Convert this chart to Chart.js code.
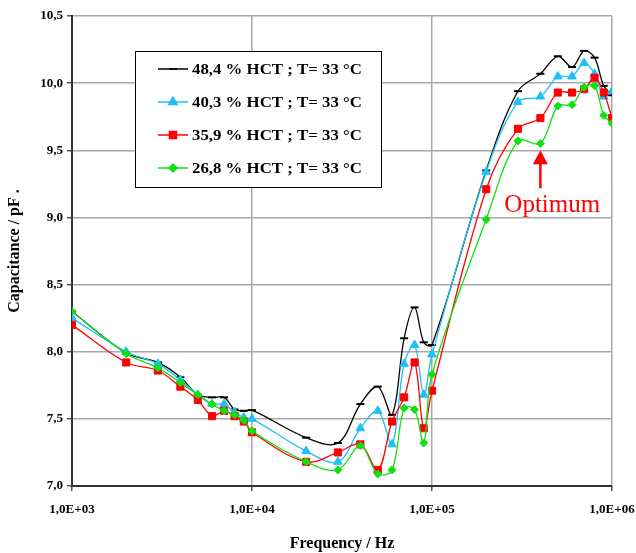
<!DOCTYPE html>
<html>
<head>
<meta charset="utf-8">
<script src="https://cdn.jsdelivr.net/npm/chart.js@4/dist/chart.umd.min.js"></script>
<style>
  html, body { margin: 0; padding: 0; background: #fff; }
  #wrap { width: 636px; height: 553px; position: relative; }
</style>
</head>
<body>
<div id="wrap"><canvas id="capChart"></canvas></div>
<script>
// frequencies (Hz)
var freqs = [1e3, 2e3, 3e3, 4e3, 5e3, 6e3, 7e3, 8e3, 9e3, 1e4,
    2e4, 3e4, 4e4, 5e4, 6e4, 7e4, 8e4, 9e4, 1e5,
    2e5, 3e5, 4e5, 5e5, 6e5, 7e5, 8e5, 9e5, 1e6];

// capacitance (pF) per hematocrit
var hct484 = [8.30, 7.99, 7.92, 7.81, 7.68, 7.66, 7.66, 7.57, 7.56, 7.565,
    7.36, 7.32, 7.61, 7.74, 7.53, 8.10, 8.33, 8.07, 8.05,
    9.35, 9.94, 10.07, 10.20, 10.12, 10.24, 10.19, 9.98, 9.91];
var hct403 = [8.25, 8.00, 7.91, 7.79, 7.68, 7.61, 7.61, 7.55, 7.51, 7.50,
    7.26, 7.18, 7.43, 7.56, 7.31, 7.91, 8.05, 7.68, 7.98,
    9.34, 9.86, 9.90, 10.05, 10.05, 10.15, 10.07, 9.90, 9.94];
var hct359 = [8.20, 7.92, 7.86, 7.74, 7.64, 7.52, 7.56, 7.52, 7.48, 7.40,
    7.18, 7.25, 7.31, 7.12, 7.48, 7.66, 7.92, 7.43, 7.71,
    9.21, 9.66, 9.74, 9.93, 9.93, 9.955, 10.04, 9.93, 9.74];
var hct268 = [8.30, 7.985, 7.88, 7.77, 7.68, 7.61, 7.56, 7.53, 7.49, 7.41,
    7.18, 7.12, 7.30, 7.09, 7.12, 7.58, 7.57, 7.32, 7.83,
    8.985, 9.57, 9.55, 9.83, 9.84, 9.97, 9.98, 9.76, 9.70];

var seriesLabels = ['48,4 % HCT ; T= 33 °C', '40,3 % HCT ; T= 33 °C',
    '35,9 % HCT ; T= 33 °C', '26,8 % HCT ; T= 33 °C'];
var xTicks = [1e3, 1e4, 1e5, 1e6];
var yMin = 7.0, yMax = 10.5, yStep = 0.5;

var optimumFreq = 4e5;   // arrow points at this frequency
var optimumLevel = 9.5;

var serif = '"Liberation Serif", "Times New Roman", serif';

function pts(values) {
    return values.map(function (v, i) { return { x: freqs[i], y: v }; });
}

function makeSet(label, values, color, style, radius, order) {
    return {
        label: label,
        data: pts(values),
        borderColor: color,
        backgroundColor: color,
        borderWidth: 1.3,
        pointStyle: style,
        pointRadius: radius,
        pointBorderWidth: style === 'line' ? 2 : 1,
        pointBackgroundColor: color,
        pointBorderColor: color,
        tension: 0.35,
        order: order
    };
}

var datasets = [
    makeSet(seriesLabels[0], hct484, '#000000', 'line', 4, 4),
    makeSet(seriesLabels[1], hct403, '#1ec0f5', 'triangle', 5, 3),
    makeSet(seriesLabels[2], hct359, '#ff0000', 'rect', 5, 2),
    makeSet(seriesLabels[3], hct268, '#11e011', 'rectRot', 4, 1)
];

// legend box + "Optimum" annotation
var extras = {
    id: 'extras',
    afterDatasetsDraw: function (chart) {
        var ctx = chart.ctx;
        var area = chart.chartArea;
        var xs = chart.scales.x, ys = chart.scales.y;

        // legend
        var bx = area.left + 63, by = area.top + 35, bw = 246, bh = 136;
        ctx.save();
        ctx.fillStyle = '#fff';
        ctx.fillRect(bx, by, bw, bh);
        ctx.strokeStyle = '#000';
        ctx.lineWidth = 1;
        ctx.strokeRect(bx + 0.5, by + 0.5, bw, bh);
        chart.data.datasets.forEach(function (ds, i) {
            var ry = by + 18 + i * 33;
            ctx.strokeStyle = ds.borderColor;
            ctx.lineWidth = 1.5;
            ctx.beginPath();
            ctx.moveTo(bx + 23, ry);
            ctx.lineTo(bx + 53, ry);
            ctx.stroke();
            ctx.fillStyle = ds.pointBackgroundColor;
            Chart.helpers.drawPoint(ctx, {
                pointStyle: ds.pointStyle,
                radius: ds.pointRadius,
                rotation: 0,
                borderWidth: ds.pointBorderWidth
            }, bx + 38, ry);
            ctx.save();
            ctx.translate(bx + 57, ry);
            ctx.scale(1.2, 1);
            ctx.fillStyle = '#000';
            ctx.font = 'bold 14px ' + serif;
            ctx.textBaseline = 'middle';
            ctx.fillText(ds.label, 0, 1);
            ctx.restore();
        });

        // arrow
        var ax = xs.getPixelForValue(optimumFreq);
        var tip = ys.getPixelForValue(optimumLevel);
        ctx.fillStyle = '#ff0000';
        ctx.strokeStyle = '#ff0000';
        ctx.lineWidth = 2.5;
        ctx.beginPath();
        ctx.moveTo(ax, tip + 12);
        ctx.lineTo(ax, tip + 38);
        ctx.stroke();
        ctx.beginPath();
        ctx.moveTo(ax, tip);
        ctx.lineTo(ax - 7.5, tip + 14);
        ctx.lineTo(ax + 7.5, tip + 14);
        ctx.closePath();
        ctx.fill();
        ctx.font = '25px ' + serif;
        ctx.textBaseline = 'alphabetic';
        ctx.fillText('Optimum', ax - 36, tip + 62);
        ctx.restore();
    }
};

var ctx = document.getElementById('capChart');
window.capChart = new Chart(ctx, {
    type: 'line',
    data: { datasets: datasets },
    plugins: [extras],
    options: {
        responsive: true,
        maintainAspectRatio: false,
        animation: false,
        layout: { padding: { left: 0, right: 24, top: 16, bottom: 0 } },
        plugins: {
            legend: { display: false },
            tooltip: { enabled: false }
        },
        scales: {
            x: {
                type: 'logarithmic',
                min: xTicks[0],
                max: xTicks[xTicks.length - 1],
                afterBuildTicks: function (scale) {
                    scale.ticks = xTicks.map(function (v) { return { value: v }; });
                },
                afterFit: function (scale) {
                    scale.height = 67;
                    scale.paddingLeft = 0;
                    scale.paddingRight = 0;
                },
                ticks: {
                    color: '#000',
                    font: { family: serif, size: 13, weight: 'bold' },
                    padding: 11,
                    maxRotation: 0,
                    autoSkip: false,
                    callback: function (v) {
                        return '1,0E+' + String(Math.round(Math.log10(v))).padStart(2, '0');
                    }
                },
                grid: { color: '#a8a8a8', lineWidth: 1.5, tickLength: 5, tickColor: '#555' },
                border: { color: '#333', width: 2 },
                title: {
                    display: true,
                    text: 'Frequency / Hz',
                    color: '#000',
                    font: { family: serif, size: 16, weight: 'bold' },
                    padding: { top: 0, bottom: 0 }
                }
            },
            y: {
                min: yMin,
                max: yMax,
                afterFit: function (scale) { scale.width = 72; },
                ticks: {
                    stepSize: yStep,
                    color: '#000',
                    font: { family: serif, size: 13, weight: 'bold' },
                    padding: 4,
                    callback: function (v) { return v.toFixed(1).replace('.', ','); }
                },
                grid: { color: '#a8a8a8', lineWidth: 1.5, tickLength: 5, tickColor: '#555' },
                border: { color: '#333', width: 2 },
                title: {
                    display: true,
                    text: 'Capacitance / pF .',
                    color: '#000',
                    font: { family: serif, size: 16, weight: 'bold' },
                    padding: { top: 5, bottom: 0 }
                }
            }
        }
    }
});
</script>
</body>
</html>
